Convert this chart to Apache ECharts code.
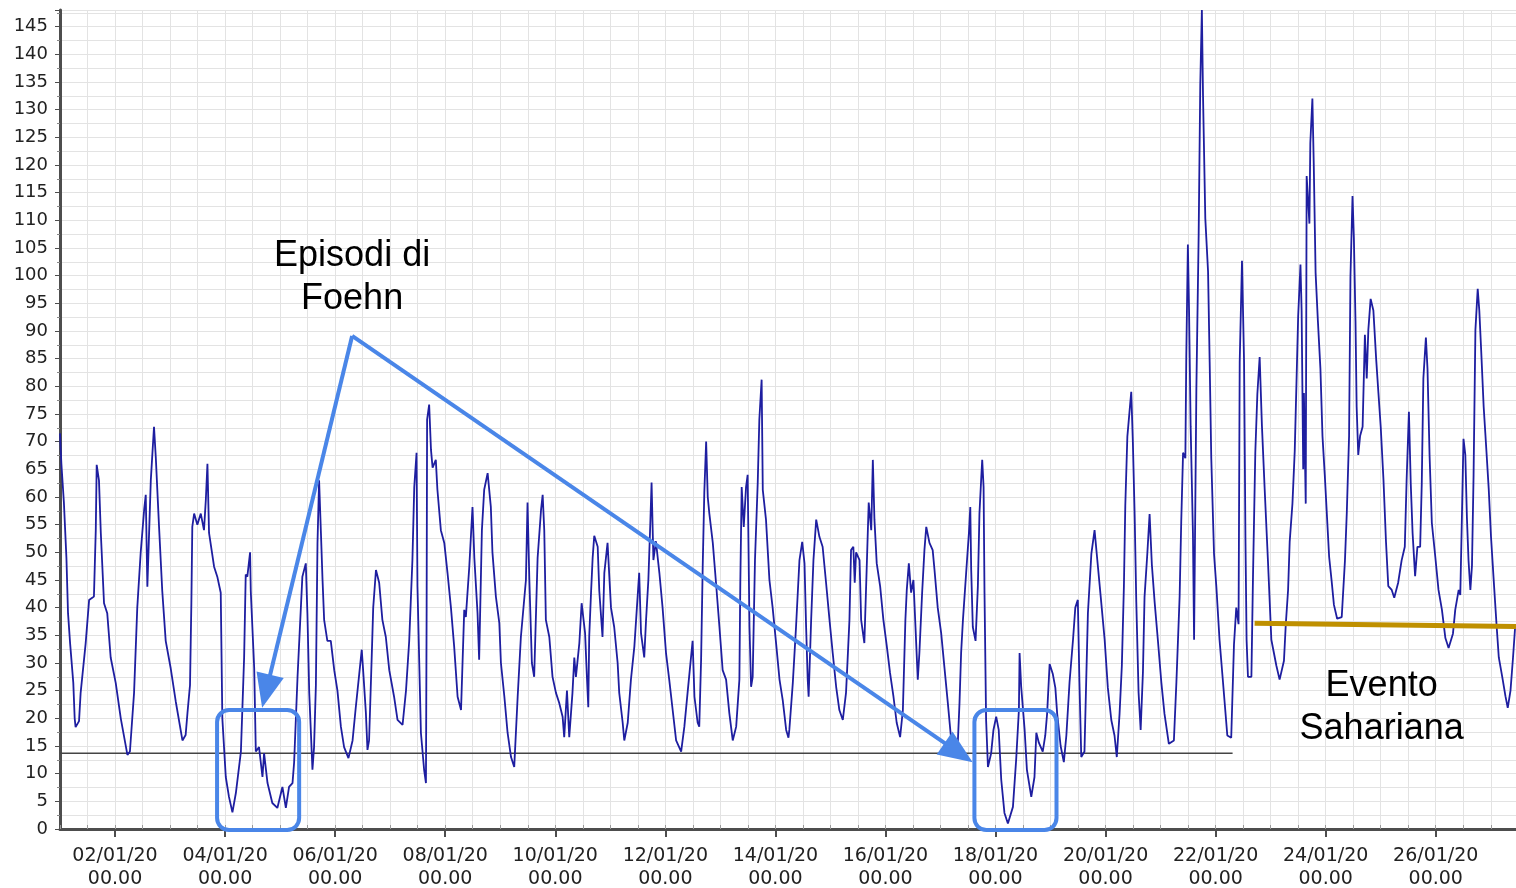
<!DOCTYPE html>
<html>
<head>
<meta charset="utf-8">
<script src="https://cdn.jsdelivr.net/npm/echarts@6.0.0/dist/echarts.min.js"></script>
<style>
  html, body { margin: 0; padding: 0; background: #fff; }
  #chart { width: 1516px; height: 888px; }
</style>
</head>
<body>
<div id="chart"></div>
<script>
// velocità del vento, [ore dall'01/01/20 00.00, valore]
const vento = [
  [0,71.5],[0.6,66],[1.7,59],[2.8,49],[3.5,39],[4.4,33.6],[5.8,26.4],[6.4,20],[6.8,18.4],[8.3,19.5],[9,24.6],
  [11.2,33.6],[12.7,41.4],[14.8,42],[15.6,54],[16,65.8],[17,63],[17.8,53.5],[19.2,40.8],[20.6,39],[22.1,31],
  [24.3,26.4],[26.5,20],[29.4,13.4],[30.5,14],[32.3,24.6],[33.7,40],[35.2,50],[36.7,57.7],[37.4,60.4],[38.1,43.8],
  [39.6,63],[41,72.7],[41.8,67],[43.2,54.6],[44.6,43],[46.1,34],[48.3,29],[50.5,23],[53.4,16],[54.8,17],
  [55.6,21],[56.7,26],[57.3,41],[57.7,54.6],[58.5,57],[59.9,55],[61.4,57],[62.8,54],[63.6,59.5],[64.3,66],
  [65,53.5],[67.2,47.4],[68.6,45.6],[70.1,42.7],[70.8,20],[72.3,9.4],[73.7,5.8],[75.2,3],[76.7,6.5],[78.9,14],
  [80.3,31],[81,46],[81.7,45.6],[82.9,50],[83.2,43],[84.7,29],[85.4,14],[86.8,14.8],[88.3,9.4],[89,13.7],
  [90.5,8.3],[92.6,4.7],[94.8,3.8],[97,7.6],[98.5,3.8],[99.9,7.6],[101.4,8.3],[102.1,12],[103.6,27.5],
  [105.7,45.6],[107.2,48],[107.9,39],[108.7,24.6],[110.1,10.7],[110.8,14.8],[111.6,26],[112.3,51.7],[113,63],
  [113.8,53.5],[114.5,45],[115.2,37.8],[116.6,34],[118.1,34],[119.6,28.7],[121,25],[122.5,18.5],[123.9,14.8],
  [125.8,12.8],[127.6,16],[129,22],[130.5,28],[131.6,32.4],[132.2,28.7],[133.4,21],[134.1,14.3],[134.8,16],
  [136,31.8],[136.6,40],[137.8,46.8],[139.2,44.5],[140.6,37.8],[142.1,34.7],[143.6,28.7],[145.7,23.9],
  [147.2,19.7],[149.4,18.8],[150.9,25],[152.3,34],[153.7,48.6],[154.5,61.8],[155.5,68],[155.9,43.8],
  [157.4,17.4],[158.8,10.7],[159.6,8.3],[159.9,40],[160.1,74],[161,76.7],[161.8,68.5],[162.5,65.3],
  [163.9,66.7],[164.6,61.3],[166.1,54],[167.6,51.7],[169,46.3],[170.5,40],[171.9,33],[173.4,23.9],
  [174.9,21.5],[175.6,30.6],[176.3,39.6],[177,38.3],[178.5,47.4],[179.9,58.2],[180.7,49],[182.1,39],
  [182.8,30.6],[184,54],[185,61.3],[186.5,64.3],[187.9,58.2],[188.6,50],[190.1,42],[191.6,37.2],[192.3,30],
  [193.8,23.9],[195.2,17.4],[196.7,13],[198.1,11.2],[199.6,23.9],[201,34.7],[203.2,45],[203.9,59],[204.7,45],
  [205.8,30],[206.8,27.5],[208.3,49],[209.8,57.7],[210.5,60.4],[211.2,54],[211.9,37.8],[213.4,34.7],
  [214.8,27.5],[216.3,24.6],[217.7,22.8],[219.2,20.3],[219.9,16.6],[221.1,25],[222.1,16.6],[223.5,24.6],
  [224.3,31],[225,27.5],[226.5,33.6],[227.5,40.8],[229,35.4],[229.8,27.5],[230.4,22],[230.8,34.7],
  [231.6,42.7],[232.3,49],[233,53],[234.5,51],[235.2,43],[236.6,34.7],[237.4,46.3],[238.8,51.7],[240.3,40],
  [241.7,36.5],[243.2,30],[243.9,24.6],[245.4,19.2],[246.1,16],[247.6,19.2],[249,27],[250.5,33],[251.6,40],
  [252.6,46.3],[253.4,35.4],[254.8,31],[255.6,37.8],[256.6,45],[257.5,55.9],[258,62.6],[258.8,48.6],
  [259.9,52],[261.4,46.3],[262.8,40],[264.3,31.8],[265.7,27],[267.2,21.5],[268.7,16],[270.9,14],[272.3,18.5],
  [273.7,24.6],[275.2,31],[275.9,34],[276.7,23.9],[278.1,19.2],[278.8,18.5],[279.6,30.6],[280.3,47.4],
  [281,60.8],[281.8,70],[282.5,60],[283.2,57],[284.7,51.7],[286.1,44.5],[287.6,36.5],[289,28.7],[290.5,27],
  [291.9,21],[293.4,16],[294.9,18.5],[296.3,27],[296.7,44.5],[297.3,61.8],[298.2,54.6],[299.2,61.8],
  [299.9,64],[300.7,36.5],[301.4,25.7],[302.1,27.5],[303.1,48.6],[304.3,62.6],[305,74],[306,81.2],
  [306.5,61.3],[307.9,55.9],[309.4,45],[310.8,40],[312.3,33.6],[313.8,27],[315.2,23.3],[316.7,17.9],
  [317.7,16.5],[318.1,18],[319.6,26.4],[321,36.5],[322.5,48.6],[323.7,51.9],[324.7,48],[325.4,36.5],
  [326.1,27],[326.5,23.9],[327.6,37.8],[328.6,48.6],[329.8,55.9],[331.2,52.8],[332.6,51],[334.1,44.5],
  [335.6,37.8],[337,31.8],[338.5,25.7],[339.9,21.5],[341.4,19.7],[342.8,24.6],[343.5,30.6],[344.3,37.8],
  [345,50.4],[346,51],[346.6,44.5],[347.2,50],[348.7,48.6],[349.4,37.8],[350.8,33.6],[351.8,46.8],
  [352.7,59],[353.8,54],[354.5,66.7],[355.2,55.9],[356.2,48],[357.7,43.8],[359.1,37.8],[360.6,33],
  [362,28.2],[363.5,23.9],[364.9,19.2],[366.4,16.6],[367.6,21.5],[368.7,37.8],[369.3,43.2],[370.2,48],
  [371.2,42.7],[372.2,45],[373.1,36.5],[374.1,27],[374.8,31.8],[376,42.7],[377,50.4],[377.8,54.6],
  [379.2,51.7],[380.6,50.4],[381.4,46.8],[382.8,40],[384.3,35.4],[385.7,29.3],[387.2,22.8],[388.7,16],
  [390.1,13.7],[391.6,16],[392.3,22.8],[393,31.8],[393.8,37.8],[395.2,46.3],[396.4,53.5],[397,58.2],
  [397.4,46.8],[398.1,36.5],[399.3,34],[400.3,43.8],[401,57],[401.8,63.6],[402.2,66.7],[402.8,61.8],
  [403.2,42.7],[403.9,19.7],[404.7,11.2],[406.1,13.7],[407.1,17.9],[408.3,20.3],[409.4,17.9],[410.5,8.9],
  [411.9,2.9],[413.4,1],[415.6,4],[417,12.5],[418.2,21.5],[418.5,31.8],[419.2,25.7],[420.7,17.9],
  [421.7,10.7],[423.6,5.8],[425,9.4],[425.8,17.4],[426.9,15.6],[428.6,14],[429.7,16.9],[430.5,20.8],
  [431.6,29.8],[433,28],[434.1,25.5],[434.9,20.8],[436.4,15],[437.8,12.1],[438.9,16.9],[440.3,26.6],
  [441.8,34.2],[442.8,40],[443.9,41.4],[444.6,26.6],[445.4,13],[446.8,14],[447.6,27.5],[448.3,39],
  [449.8,49.7],[451.2,54],[452.6,47.7],[454.1,41],[455.6,34.2],[457,25.5],[458.5,19.7],[459.9,16.9],
  [460.9,13],[462.1,20.8],[463.1,29.5],[464,43.9],[464.6,58.4],[465.5,70.9],[466.5,75.7],[467.2,79],
  [467.9,70],[468.7,56.4],[469.4,41],[470.4,24.6],[471.3,17.9],[472.3,28.4],[473,42],[474.2,49.7],
  [475.2,56.9],[476.2,47.7],[477.4,41],[478.8,34.2],[480.3,26.6],[481.7,20.8],[483.6,15.4],[485.8,16],
  [486.9,26.6],[488.3,42],[489,55.5],[489.8,68],[490.8,67],[491.2,85.3],[491.9,105.6],[492.4,94],
  [493.1,72.8],[494.1,53.5],[494.6,34.2],[495.6,79.5],[496.6,107.4],[497.3,134.5],[498,148],[498.5,132.5],
  [499.5,110.3],[500.7,100.7],[501.4,84.4],[502.1,67],[503.3,49.7],[504.3,43.9],[505.7,34.2],[507.2,26.6],
  [509.1,16.9],[510.8,16.5],[512,33.3],[513,40],[514,37],[514.5,84.4],[515.5,102.7],[516.4,84.4],[517,52.6],
  [517.5,34.2],[518.1,27.5],[519.6,27.5],[520.3,45.7],[521.3,68],[522.2,78.6],[523.2,85.3],[524.2,72.8],
  [525.4,61.3],[526.8,48.6],[528.3,34.2],[530.5,29.5],[531.9,27],[533.8,30.4],[534.6,37],[535.6,43.2],
  [536.3,51.9],[537.5,58.8],[538.5,68.3],[540,92.7],[541,102],[541.5,93.7],[542.2,65],[542.5,78.8],
  [543.3,58.8],[543.7,118],[544.9,109.4],[545.3,124],[546.2,132],[546.8,120],[547.6,100.5],[548.6,91.8],
  [549.7,83.2],[550.6,71],[551.6,64],[552.6,56.2],[553.5,49.2],[554.6,44.8],[555.6,40.5],[557,38],
  [559,38.3],[560.4,48.5],[561.2,57.1],[562.2,71],[562.8,99.8],[563.7,114.4],[564.3,106.7],[565,91.8],
  [565.5,76.3],[566.2,67.6],[567,71],[568.1,72.7],[569.1,89.3],[569.9,81.4],[570.6,90.2],[571.6,95.8],
  [572.8,93.7],[574,85],[575,78.8],[576,72.7],[577.2,63.1],[578.3,51.9],[579.3,43.9],[580.8,43.2],
  [581.9,41.8],[583.6,44.5],[585.1,48.5],[586.5,51],[587.3,63.1],[588.3,75.4],[589.1,62.4],[589.9,53.5],
  [591,45.7],[592,51],[593.2,51],[593.9,62.4],[594.6,81.4],[595.7,88.8],[596.4,83.2],[597.3,67.6],
  [598.3,55.3],[599.8,49.2],[601.2,43.2],[602.7,39.6],[604.2,34.5],[605.6,32.7],[607.5,35.3],[608.5,39.6],
  [610,43.2],[610.7,42.3],[611.4,56.2],[612.1,70.5],[612.9,67.6],[613.6,56.2],[614.3,48.5],[615.1,43.2],
  [615.8,47.6],[616.5,64],[617.3,90.2],[618.3,97.6],[619,93.7],[619.8,86.6],[620.9,76.3],[622.1,68.3],
  [623.1,61.5],[624.1,52.8],[625.3,44.8],[626.5,37],[627.5,31],[629,27.5],[630.4,24],[631.4,21.9],
  [632.6,25],[633.7,31],[634.7,37]
];

// linea di soglia (nera) e linea "Evento Sahariana" (ocra)
const soglia = [[0, 13.7], [511.4, 13.7]];
const sahariana = [[521, 37.2], [635, 36.6]];

// etichette asse x: giorno e ora in cui cadono
const giorni = ['02/01/20', '04/01/20', '06/01/20', '08/01/20', '10/01/20', '12/01/20', '14/01/20',
  '16/01/20', '18/01/20', '20/01/20', '22/01/20', '24/01/20', '26/01/20'];
const oreGiorni = [24, 72, 120, 168, 216, 264, 312, 360, 408, 456, 504, 552, 600];

const X_MAX = 635;
const Y_MAX = 148;

// annotazioni, in coordinate del grafico (ore, valore)
const frecciaDa = [127.4, 89.1];
const frecciaA1 = [89.9, 24.9];
const frecciaA2 = [391.9, 13.8];
const box1 = [[68.5, 21.5], [104.3, -0.2]];
const box2 = [[398.8, 21.5], [434.6, -0.2]];
const testo1 = [127.4, 99.6];
const testo2 = [576.4, 21.9];

const chart = echarts.init(document.getElementById('chart'));
const gridRect = { left: 60, right: 0, top: 10, bottom: 59, outerBoundsMode: 'none' };
const gridColor = '#e3e3e3';
const axisColor = '#4d4d4d';
const blu = '#4a86e8';
const fontAssi = 'DejaVu Sans';

const option = {
  backgroundColor: '#fff',
  animation: false,
  grid: [Object.assign({}, gridRect), Object.assign({}, gridRect)],
  xAxis: [
    {
      type: 'value', gridIndex: 0, min: 0, max: X_MAX, interval: 12,
      axisLine: { show: true, onZero: false, lineStyle: { color: axisColor, width: 3 } },
      axisTick: { show: true, inside: true, length: 4, lineStyle: { color: '#999' } },
      axisLabel: { show: false },
      splitLine: { show: true, lineStyle: { color: gridColor, width: 1 } }
    },
    {
      type: 'value', gridIndex: 1, min: 0, max: X_MAX,
      axisLine: { show: false },
      axisTick: { show: true, length: 8, customValues: oreGiorni, lineStyle: { color: axisColor, width: 2 } },
      axisLabel: {
        show: true, customValues: oreGiorni, margin: 16,
        fontFamily: fontAssi, fontSize: 19, color: '#222', lineHeight: 23,
        formatter: function (v) {
          const i = oreGiorni.indexOf(v);
          return i < 0 ? '' : giorni[i] + '\n00.00';
        }
      },
      splitLine: { show: false }
    }
  ],
  yAxis: [
    {
      type: 'value', gridIndex: 0, min: 0, max: Y_MAX, interval: 5,
      axisLine: { show: true, onZero: false, lineStyle: { color: axisColor, width: 3 } },
      axisTick: { show: true, length: 5, lineStyle: { color: axisColor } },
      minorTick: { show: true, splitNumber: 2, length: 3, lineStyle: { color: '#888' } },
      axisLabel: {
        margin: 12, fontFamily: fontAssi, fontSize: 18, color: '#222',
        formatter: function (v) { return v % 5 === 0 ? String(v) : ''; }
      },
      splitLine: { show: true, lineStyle: { color: gridColor } },
      minorSplitLine: { show: true, lineStyle: { color: gridColor } }
    },
    { type: 'value', gridIndex: 1, min: 0, max: Y_MAX, show: false }
  ],
  series: [
    {
      name: 'soglia', type: 'line', xAxisIndex: 0, yAxisIndex: 0,
      data: soglia, symbol: 'none', z: 2,
      lineStyle: { color: '#444', width: 1.5 }
    },
    {
      name: 'vento', type: 'line', xAxisIndex: 0, yAxisIndex: 0,
      data: vento, symbol: 'none', z: 3,
      lineStyle: { color: '#1e1ea0', width: 1.8 }
    },
    {
      name: 'sahariana', type: 'line', xAxisIndex: 0, yAxisIndex: 0,
      data: sahariana, symbol: 'none', z: 4,
      lineStyle: { color: '#bf9000', width: 5 },
      markLine: {
        silent: true, animation: false,
        symbol: ['none', 'triangle'], symbolSize: [28, 34],
        label: { show: false },
        lineStyle: { color: blu, width: 4, type: 'solid' },
        data: [
          [{ coord: frecciaDa }, { coord: frecciaA1 }],
          [{ coord: frecciaDa }, { coord: frecciaA2 }]
        ]
      }
    }
  ]
};
chart.setOption(option);

// riquadri e testi posizionati con le scale del grafico
function px(p) { return chart.convertToPixel({ gridIndex: 0 }, p); }
function riquadro(b) {
  const a = px(b[0]), c = px(b[1]);
  return {
    type: 'rect', z: 100,
    shape: { x: a[0], y: a[1], width: c[0] - a[0], height: c[1] - a[1], r: 12 },
    style: { fill: 'none', stroke: blu, lineWidth: 4 }
  };
}
function testo(p, t) {
  const a = px(p);
  return {
    type: 'text', z: 100,
    style: {
      text: t, x: a[0], y: a[1], align: 'center', verticalAlign: 'middle',
      font: '36px "Liberation Sans", Arial, sans-serif', lineHeight: 43, fill: '#000'
    }
  };
}
chart.setOption({
  graphic: [
    riquadro(box1), riquadro(box2),
    testo(testo1, 'Episodi di\nFoehn'),
    testo(testo2, 'Evento\nSahariana')
  ]
});
</script>
</body>
</html>
